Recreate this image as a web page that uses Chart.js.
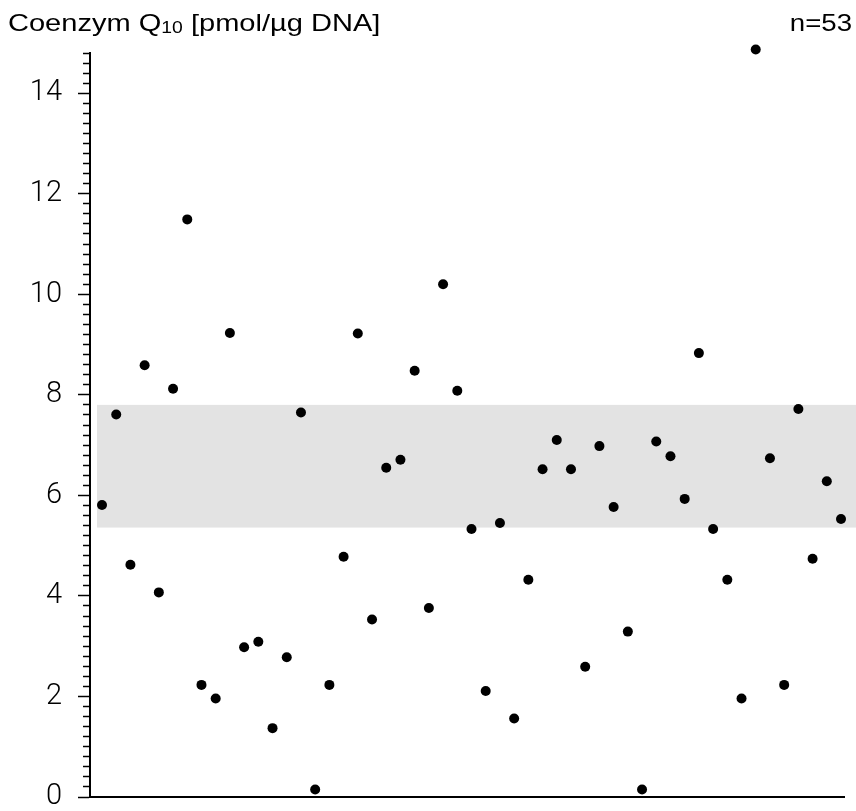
<!DOCTYPE html>
<html lang="de">
<head>
<meta charset="utf-8">
<title>Coenzym Q10</title>
<script src="https://cdn.jsdelivr.net/npm/chart.js"></script>
<style>
  html, body { margin: 0; padding: 0; background: #fff; }
  #wrap { position: relative; width: 856px; height: 811px; }
</style>
</head>
<body>
<div id="wrap"><canvas id="myChart"></canvas></div>
<script>
// values in pmol/µg DNA, one per sample (left to right)
const values = [
  5.81, 7.61, 4.62, 8.59, 4.07, 8.12, 11.49, 2.23, 1.96, 9.23,
  2.98, 3.09, 1.37, 2.78, 7.65, 0.15, 2.23, 4.78, 9.22, 3.53,
  6.55, 6.71, 8.48, 3.76, 10.20, 8.08, 5.33, 2.11, 5.45, 1.56,
  4.32, 6.52, 7.10, 6.52, 2.59, 6.98, 5.77, 3.29, 0.15, 7.07,
  6.78, 5.93, 8.83, 5.33, 4.32, 1.96, 14.87, 6.74, 2.23, 7.72,
  4.74, 6.28, 5.53
];
const yLabels = [0, 2, 4, 6, 8, 10, 12, 14];
const refRange = [5.36, 7.8];   // grey reference band
const yMax = 14.8;
const xMin = -0.844, xMax = 52.21, bandStart = -0.35;

const points = values.map((v, i) => ({x: i, y: v}));
const isMajor = v => yLabels.some(t => Math.abs(t - v) < 1e-6);

const bandPlugin = {
  id: 'band',
  beforeDatasetsDraw(chart) {
    const {ctx, scales: {x, y}} = chart;
    const top = y.getPixelForValue(refRange[1]);
    const bottom = y.getPixelForValue(refRange[0]);
    const left = x.getPixelForValue(bandStart);
    ctx.save();
    ctx.fillStyle = '#e3e3e3';
    ctx.fillRect(left, top, chart.width - left, bottom - top);
    ctx.restore();
  }
};

// header text is a bit wider than plain Arial in the original, so stretch it
const headerPlugin = {
  id: 'header',
  afterDraw(chart) {
    const ctx = chart.ctx;
    const big = '24px "Liberation Sans", Arial, sans-serif';
    const small = '16px "Liberation Sans", Arial, sans-serif';
    ctx.save();
    ctx.fillStyle = '#000';
    ctx.textBaseline = 'alphabetic';
    ctx.translate(8, 0);
    ctx.scale(1.21, 1);
    let x = 0;
    ctx.font = big;
    ctx.fillText('Coenzym Q', x, 31);
    x += ctx.measureText('Coenzym Q').width;
    ctx.font = small;
    ctx.fillText('10', x, 33);
    x += ctx.measureText('10').width;
    ctx.font = big;
    ctx.fillText(' [pmol/µg DNA]', x, 31);
    ctx.restore();

    ctx.save();
    ctx.fillStyle = '#000';
    ctx.font = big;
    ctx.textAlign = 'right';
    ctx.translate(852, 0);
    ctx.scale(1.15, 1);
    ctx.fillText('n=53', 0, 31);
    ctx.restore();
  }
};

const ctx = document.getElementById('myChart').getContext('2d');
const myChart = new Chart(ctx, {
  type: 'scatter',
  data: {
    datasets: [{
      data: points,
      backgroundColor: '#000',
      borderWidth: 0,
      pointRadius: 5,
      pointHoverRadius: 5,
      clip: false
    }]
  },
  options: {
    responsive: true,
    maintainAspectRatio: false,
    animation: false,
    events: [],
    layout: { padding: { top: 53, bottom: 6, left: 0, right: 12 } },
    plugins: { legend: { display: false }, tooltip: { enabled: false } },
    scales: {
      x: {
        type: 'linear',
        min: xMin,
        max: xMax,
        grid: { display: false },
        ticks: { display: false },
        border: { display: true, color: '#000', width: 2 }
      },
      y: {
        min: 0,
        max: yMax,
        border: { display: true, color: '#000', width: 2 },
        grid: {
          drawOnChartArea: false,
          tickLength: 12,
          tickColor: '#000',
          tickWidth: 1.5,
          tickBorderDash: c => (c.tick && !isMajor(c.tick.value)) ? [0, 5, 7, 100] : []
        },
        ticks: {
          stepSize: 0.2,
          autoSkip: false,
          padding: 16,
          color: '#000',
          font: { family: 'Roboto, "Liberation Sans", sans-serif', size: 29, weight: 300 },
          callback: v => isMajor(v) ? String(Math.round(v)) : ''
        },
        afterFit(s) { s.width = 90; s.paddingTop = 0; s.paddingBottom = 0; }
      }
    }
  },
  plugins: [bandPlugin, headerPlugin]
});
</script>
</body>
</html>
